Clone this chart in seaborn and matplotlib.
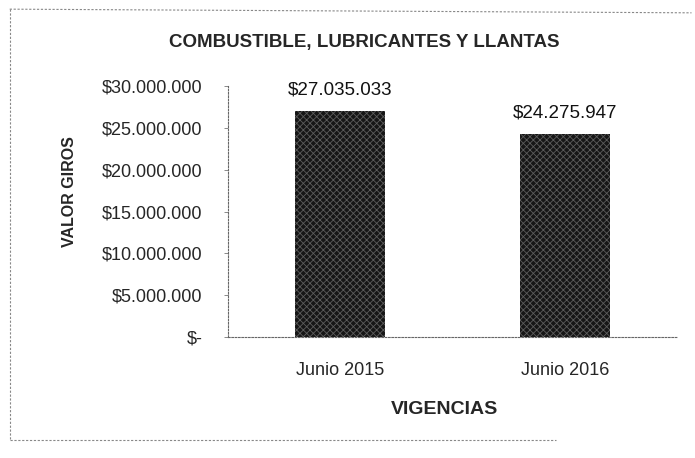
import matplotlib
matplotlib.use("Agg")
import matplotlib.pyplot as plt
import matplotlib.lines as mlines
import seaborn as sns
import pandas as pd

# datos
vigencias = ["Junio 2015", "Junio 2016"]
valores = [27035033, 24275947]
etiquetas = ["$27.035.033", "$24.275.947"]
ticks_y = [0, 5000000, 10000000, 15000000, 20000000, 25000000, 30000000]
ticks_y_txt = ["$-", "$5.000.000", "$10.000.000", "$15.000.000", "$20.000.000", "$25.000.000", "$30.000.000"]

df = pd.DataFrame({"Vigencia": vigencias, "Valor": valores})

sns.set_style("white")
plt.rcParams["font.family"] = ["Liberation Sans", "DejaVu Sans"]
plt.rcParams["hatch.linewidth"] = 0.6

fig = plt.figure(figsize=(6.95, 4.58), dpi=100)
ax = fig.add_axes([0.328, 0.2642, 0.647, 0.548])

sns.barplot(data=df, x="Vigencia", y="Valor", color="#161616", width=0.4, ax=ax)
for p in ax.patches:
    p.set_hatch("xxxxx")
    p.set_edgecolor("#5c5c5c")
    p.set_linewidth(0)

for i, (v, t) in enumerate(zip(valores, etiquetas)):
    ax.text(i, v + 2500000, t, ha="center", va="center", fontsize=13.5, color="#111")

ax.set_ylim(0, 30000000)
ax.set_xlim(-0.5, 1.5)
ax.set_yticks(ticks_y)
ax.set_yticklabels(ticks_y_txt, fontsize=13)
ax.tick_params(axis="x", labelsize=13, length=0, pad=18)
ax.tick_params(axis="y", length=3, width=0.6, color="#777", pad=15.5, left=True)

for s in ["top", "right"]:
    ax.spines[s].set_visible(False)
for s in ["left", "bottom"]:
    ax.spines[s].set_linestyle((0, (1.5, 1.5)))
    ax.spines[s].set_color("#666")
    ax.spines[s].set_linewidth(0.8)

ax.set_xlabel("VIGENCIAS", fontsize=14, fontweight="bold")
ax.set_ylabel("VALOR GIROS", fontsize=11.5, fontweight="bold")
ax.xaxis.set_label_coords(0.482, -0.255)
ax.yaxis.set_label_coords(-0.336, 0.58)

fig.text(0.524, 0.908, "COMBUSTIBLE, LUBRICANTES Y LLANTAS", ha="center", va="center",
         fontsize=13.5, fontweight="bold")

# borde punteado del recuadro (escaneado)
estilo = dict(transform=fig.transFigure, color="#888", linewidth=0.8, linestyle=(0, (2, 1.5)))
fig.lines.append(mlines.Line2D([0.014, 0.995], [0.98, 0.972], **estilo))
fig.lines.append(mlines.Line2D([0.014, 0.014], [0.98, 0.04], **estilo))
fig.lines.append(mlines.Line2D([0.014, 0.8], [0.04, 0.04], **estilo))

fig.savefig("out.png", dpi=100)
